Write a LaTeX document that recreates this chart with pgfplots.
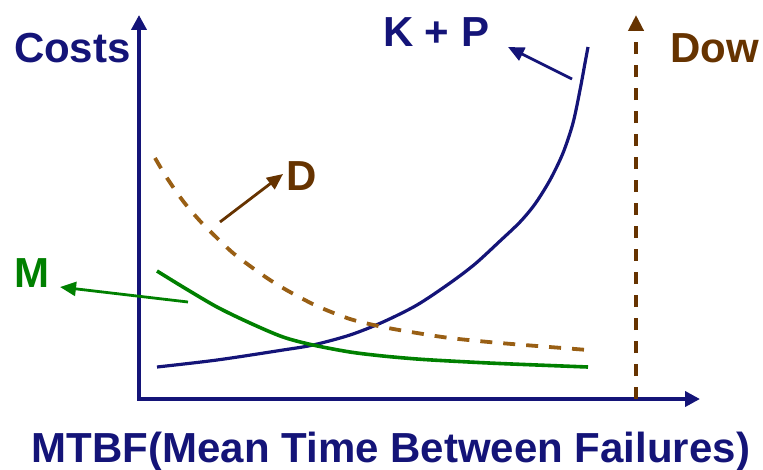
\documentclass[border=0pt]{standalone}
\usepackage{pgfplots}
\pgfplotsset{compat=1.18}
\usepackage{fontspec}
\setmainfont{Liberation Sans}
\usetikzlibrary{arrows.meta}
\definecolor{navy}{RGB}{20,20,120}
\definecolor{mgreen}{RGB}{0,128,0}
\definecolor{dbrown}{RGB}{102,51,0}
\definecolor{lbrown}{RGB}{153,95,20}
\tikzset{lab/.style={inner sep=0pt, outer sep=0pt, anchor=base west, font=\fontsize{21pt}{25pt}\selectfont\bfseries}}
\begin{document}
\begin{tikzpicture}
\begin{axis}[
  scale only axis, width=381.5pt, height=234.5pt,
  xmin=0, xmax=763, ymin=0, ymax=469,
  hide axis, clip=false,
]
% axes
\addplot[navy, line width=2pt, line join=miter, no marks,
  {Triangle[length=7.5pt,width=7.5pt]}-{Triangle[length=7.5pt,width=7.5pt]}]
  coordinates {(139,454) (139,70) (700,70)};
% Dow vertical
\addplot[dbrown, line width=2.2pt, no marks, dash pattern=on 6pt off 5.5pt,
  -{Triangle[length=8pt,width=7.5pt]}]
  coordinates {(636,70) (636,454)};
% K+P
\addplot[navy, line width=1.6pt, smooth, no marks] coordinates {
(157,102) (217,109) (283,119) (313,124) (350,134) (383,147) (417,164)
(450,186) (475,205) (500,228) (520,247) (535,265) (550,289) (563,316)
(573,346) (580,379) (585,406) (588,422)};
% D
\addplot[lbrown, line width=1.9pt, smooth, no marks, dash pattern=on 6pt off 5.5pt] coordinates {
(155,311) (167,291) (183,268) (200,248) (217,231) (233,216) (250,203)
(270,189) (290,177) (317,163) (350,150) (383,142) (417,136) (450,131)
(500,126) (588,119)};
% M
\addplot[mgreen, line width=1.8pt, smooth, no marks] coordinates {
(157,198) (183,182) (217,162) (250,146) (283,132) (313,124) (350,117)
(383,113) (417,110) (450,108) (500,105.5) (588,102)};
% annotation arrows
\addplot[navy, line width=1.4pt, no marks, -{Triangle[length=8pt,width=7pt]}]
  coordinates {(572,390) (508,422)};
\addplot[dbrown, line width=1.4pt, no marks, -{Triangle[length=8pt,width=7pt]}]
  coordinates {(220,247) (283,295)};
\addplot[mgreen, line width=1.4pt, no marks, -{Triangle[length=8pt,width=7pt]}]
  coordinates {(188,167) (60,182)};
% labels
\node[lab, text=navy] at (axis cs:14,406) {Costs};
\node[lab, text=navy] at (axis cs:383,422) {K + P};
\node[lab, text=dbrown] at (axis cs:670,406) {Dow};
\node[lab, text=dbrown] at (axis cs:286,279) {D};
\node[lab, text=mgreen] at (axis cs:14,182) {M};
\node[lab, text=navy] at (axis cs:32,7) {MTBF(Mean Time Between Failures)};
\coordinate (bl) at (axis cs:0,0);
\coordinate (tr) at (axis cs:763,469);
\end{axis}
\pgfresetboundingbox
\useasboundingbox (bl) rectangle (tr);
\end{tikzpicture}
\end{document}
